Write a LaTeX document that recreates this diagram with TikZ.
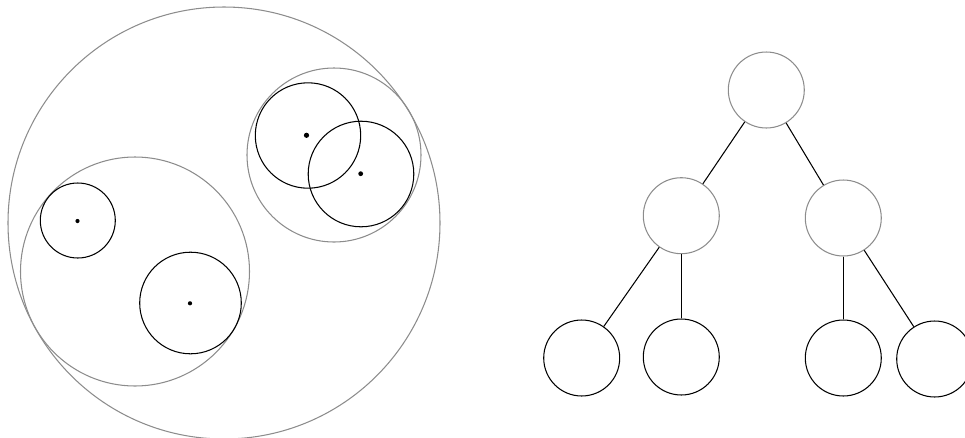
\documentclass[tikz,border=0pt]{standalone}
\usepackage{tikz}

\begin{document}
\begin{tikzpicture}[x=0.02cm, y=-0.02cm, line width=0.6pt,
	bound/.style={draw=black!45},
	prim/.style={draw=black},
	inner node/.style={circle, draw=black!45, minimum size=1.52cm, inner sep=0pt},
	leaf node/.style={circle, draw=black, minimum size=1.52cm, inner sep=0pt}]
	\useasboundingbox (0,0) rectangle (965,437);
	\clip (0,0) rectangle (965,437);
	% bounding spheres
	\draw[bound] (224,223) circle (216);
	\draw[bound] (135,271.5) circle (114.5);
	\draw[bound] (334,155) circle (87);
	% primitives
	\draw[prim] (77.8,220.5) circle (37.5);
	\draw[prim] (190.5,303) circle (50.8);
	\draw[prim] (308,135.5) circle (52.7);
	\draw[prim] (361,174) circle (52.8);
	\fill (77.5,221) circle (2.1);
	\fill (190,303.3) circle (2.1);
	\fill (306.5,135.3) circle (2.6);
	\fill (360.7,173.7) circle (2.4);
	% hierarchy
	\node[inner node] (root) at (766.3,90) {};
	\node[inner node] (left) at (681.3,215.7) {};
	\node[inner node] (right) at (843.3,218) {};
	\node[leaf node] (ll) at (581.7,358) {};
	\node[leaf node] (lr) at (681.3,357) {};
	\node[leaf node] (rl) at (843.3,358) {};
	\node[leaf node] (rr) at (934.7,359) {};
	\draw (root) -- (left);
	\draw (root) -- (right);
	\draw (left) -- (ll);
	\draw (left) -- (lr);
	\draw (right) -- (rl);
	\draw (right) -- (rr);
\end{tikzpicture}
\end{document}
